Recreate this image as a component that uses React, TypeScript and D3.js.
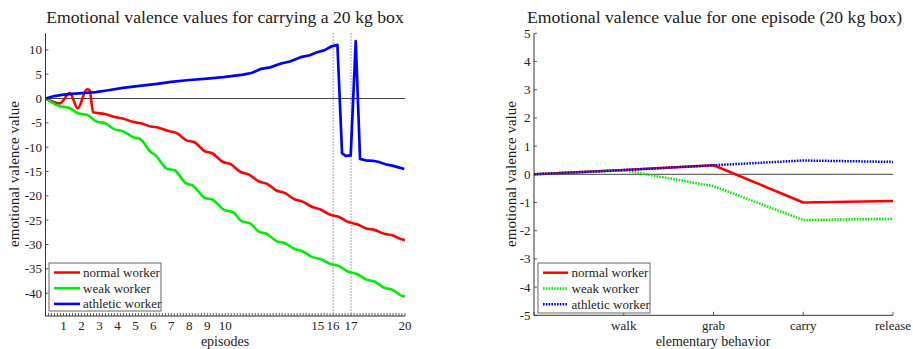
import React from 'react';
import * as d3 from 'd3';

// ---------- Left chart data (episodes) ----------
const normalEpisodes = [0, 0.8, 1.35, 1.8, 2.3, 2.45, 2.65, 3.3, 3.85, 4.3, 4.85, 5.3, 5.85, 6.3, 6.85, 7.3, 7.85, 8.3, 8.85, 9.3, 9.85, 10.3, 10.85, 11.3, 11.85, 12.3, 12.85, 13.3, 13.85, 14.3, 14.85, 15.3, 15.85, 16.3, 16.85, 17.3, 17.85, 18.3, 18.85, 19.3, 19.85, 20];
const normalValues = [0, -1.0, 1.1, -2.0, 1.9, 1.75, -2.85, -3.2, -3.8, -4.1, -4.8, -5.1, -5.75, -6.0, -6.7, -7.1, -8.6, -9.0, -10.8, -11.3, -13.0, -13.5, -15.1, -15.6, -17.0, -17.5, -18.9, -19.4, -20.7, -21.2, -22.3, -22.8, -23.9, -24.3, -25.4, -25.8, -26.7, -27.0, -27.8, -28.1, -29.0, -29.1];

const weakEpisodes = [0, 0.75, 1.3, 1.85, 2.3, 2.85, 3.3, 3.85, 4.3, 4.85, 5.3, 5.85, 6.1, 6.75, 7.2, 7.8, 8.2, 8.85, 9.3, 9.95, 10.45, 10.9, 11.4, 11.85, 12.3, 12.85, 13.3, 13.85, 14.3, 14.85, 15.3, 15.85, 16.3, 16.85, 17.3, 17.85, 18.3, 18.85, 19.3, 19.85, 20];
const weakValues = [0, -1.55, -1.9, -3.1, -3.35, -4.75, -5.05, -6.35, -6.7, -7.9, -8.4, -11.0, -11.6, -14.4, -14.8, -17.4, -17.9, -20.4, -20.8, -22.9, -23.4, -25.2, -25.7, -27.3, -27.8, -29.3, -29.7, -30.9, -31.4, -32.6, -33.0, -34.0, -34.4, -35.6, -36.0, -37.2, -37.6, -38.9, -39.3, -40.6, -40.7];

const athleticEpisodes = [0, 0.5, 1, 1.5, 2, 2.8, 3.5, 4.3, 5, 6.2, 7, 8, 9, 9.9, 11, 11.5, 12, 12.5, 13.1, 13.6, 14.2, 14.7, 15.1, 15.5, 15.9, 16.24, 16.5, 16.7, 16.98, 17.26, 17.5, 17.8, 18.2, 18.5, 19.0, 19.3, 19.96];
const athleticValues = [0, 0.5, 0.8, 0.95, 1.1, 1.3, 1.7, 2.2, 2.5, 3.0, 3.4, 3.8, 4.1, 4.4, 4.9, 5.3, 6.1, 6.4, 7.2, 7.6, 8.5, 8.9, 9.5, 9.9, 10.7, 11.0, -11.3, -11.8, -11.7, 11.8, -12.4, -12.7, -12.8, -13.0, -13.6, -13.8, -14.5];

const episodeTickPositions = [1, 2, 3, 4, 5, 6, 7, 8, 9, 10, 15.15, 16, 17, 20];
const episodeTickLabels = ['1', '2', '3', '4', '5', '6', '7', '8', '9', '10', '15', '16', '17', '20'];
const markedEpisodes = [16, 17];
const leftYTicks = [-40, -35, -30, -25, -20, -15, -10, -5, 0, 5, 10];

// ---------- Right chart data (one episode) ----------
const behaviors = ['', 'walk', 'grab', 'carry', 'release'];
const normalOne = [0, 0.15, 0.32, -1.0, -0.95];
const weakOne = [0, 0.14, -0.42, -1.62, -1.58];
const athleticOne = [0, 0.15, 0.32, 0.49, 0.44];
const rightYTicks = [-5, -4, -3, -2, -1, 0, 1, 2, 3, 4, 5];

const seriesNames = ['normal worker', 'weak worker', 'athletic worker'];
const seriesColors = ['#ff0000', '#00ee00', '#0000ff'];

const FONT = '"Liberation Serif", "Times New Roman", serif';
const AXIS = '#333';
const TITLE_SIZE = 17.7;
const LABEL_SIZE = 14.5;
const TICK_SIZE = 13;

function LeftChart() {
  const x = d3.scaleLinear().domain([0, 20]).range([45.5, 405]);
  const y = d3.scaleLinear().domain([-44.7, 13.4]).range([316, 33.3]);
  const smooth = d3.line<[number, number]>().x(d => x(d[0])).y(d => y(d[1])).curve(d3.curveMonotoneX);
  const straight = d3.line<[number, number]>().x(d => x(d[0])).y(d => y(d[1]));
  const pts = (eps: number[], vals: number[]) => eps.map((e, i) => [e, vals[i]] as [number, number]);
  const minor = d3.range(0, 20 * 6 + 1).map(i => i / 6);
  const [y0, y1] = y.range();
  const [x0, x1] = x.range();
  return (
    <g>
      <text x={225} y={22.5} textAnchor="middle" fontSize={TITLE_SIZE} fontFamily={FONT} fill="#222">Emotional valence values for carrying a 20 kg box</text>
      <line x1={x0} x2={x1} y1={y(0)} y2={y(0)} stroke="#444" strokeWidth={1} />
      {markedEpisodes.map(e => (
        <line key={e} x1={x(e)} x2={x(e)} y1={y1} y2={y0} stroke="#888" strokeWidth={1} strokeDasharray="1.5 1.5" />
      ))}
      <path d={smooth(pts(normalEpisodes, normalValues)) || ''} fill="none" stroke={seriesColors[0]} strokeWidth={2.6} strokeLinejoin="round" />
      <path d={smooth(pts(weakEpisodes, weakValues)) || ''} fill="none" stroke={seriesColors[1]} strokeWidth={2.6} strokeLinejoin="round" />
      <path d={straight(pts(athleticEpisodes, athleticValues)) || ''} fill="none" stroke={seriesColors[2]} strokeWidth={2.7} strokeLinejoin="round" />
      <line x1={x0} x2={x0} y1={y1} y2={y0} stroke={AXIS} strokeWidth={1} />
      <line x1={x0} x2={x1} y1={y0} y2={y0} stroke={AXIS} strokeWidth={1} />
      {minor.map((m, i) => (
        <line key={i} x1={x(m)} x2={x(m)} y1={y0} y2={y0 - 3} stroke={AXIS} strokeWidth={0.8} />
      ))}
      {leftYTicks.map(t => (
        <g key={t}>
          <line x1={x0} x2={x0 + 3} y1={y(t)} y2={y(t)} stroke={AXIS} strokeWidth={0.8} />
          <text x={x0 - 3.5} y={y(t) + 4.5} textAnchor="end" fontSize={TICK_SIZE} fontFamily={FONT} fill="#222">{t}</text>
        </g>
      ))}
      {episodeTickPositions.map((p, i) => (
        <text key={i} x={x(p)} y={329.5} textAnchor="middle" fontSize={TICK_SIZE} fontFamily={FONT} fill="#222">{episodeTickLabels[i]}</text>
      ))}
      <text x={225} y={346} textAnchor="middle" fontSize={14} fontFamily={FONT} fill="#222">episodes</text>
      <text transform={`translate(19,174) rotate(-90)`} textAnchor="middle" fontSize={LABEL_SIZE + 0.5} fontFamily={FONT} fill="#222">emotional valence value</text>
      <rect x={49} y={263} width={112} height={48} fill="#fff" stroke="#666" strokeWidth={1} />
      {seriesNames.map((n, i) => (
        <g key={n}>
          <line x1={54} x2={80} y1={272.5 + i * 15.7} y2={272.5 + i * 15.7} stroke={seriesColors[i]} strokeWidth={2.5} />
          <text x={83} y={272.5 + i * 15.7 + 4.5} fontSize={TICK_SIZE} fontFamily={FONT} fill="#222">{n}</text>
        </g>
      ))}
    </g>
  );
}

function RightChart() {
  const x = d3.scaleLinear().domain([0, 4]).range([534, 893]);
  const y = d3.scaleLinear().domain([-5, 5]).range([315.3, 33.3]);
  const line = d3.line<number>().x((_, i) => x(i)).y(d => y(d));
  const [y0, y1] = y.range();
  const [x0, x1] = x.range();
  const dash = '1.6 1.2';
  const styles = [undefined, dash, dash];
  const data = [normalOne, weakOne, athleticOne];
  return (
    <g>
      <text x={714.5} y={22.5} textAnchor="middle" fontSize={TITLE_SIZE} fontFamily={FONT} fill="#222">Emotional valence value for one episode (20 kg box)</text>
      <line x1={x0} x2={x1} y1={y(0)} y2={y(0)} stroke="#444" strokeWidth={1} />
      {data.map((d, i) => (
        <path key={i} d={line(d) || ''} fill="none" stroke={seriesColors[i]} strokeWidth={2.5} strokeDasharray={styles[i]} strokeLinejoin="round" />
      ))}
      <line x1={x0} x2={x0} y1={y1} y2={y0} stroke={AXIS} strokeWidth={1} />
      <line x1={x0} x2={x1} y1={y0} y2={y0} stroke={AXIS} strokeWidth={1} />
      {rightYTicks.map(t => (
        <g key={t}>
          <line x1={x0} x2={x0 + 3} y1={y(t)} y2={y(t)} stroke={AXIS} strokeWidth={0.8} />
          <text x={x0 - 3.5} y={y(t) + 4.5} textAnchor="end" fontSize={TICK_SIZE} fontFamily={FONT} fill="#222">{t}</text>
        </g>
      ))}
      {behaviors.map((b, i) => (
        <g key={i}>
          <line x1={x(i)} x2={x(i)} y1={y0} y2={y0 - 3.5} stroke={AXIS} strokeWidth={0.8} />
          {b && <text x={x(i)} y={329.5} textAnchor="middle" fontSize={TICK_SIZE} fontFamily={FONT} fill="#222">{b}</text>}
        </g>
      ))}
      <text x={713} y={346} textAnchor="middle" fontSize={14} fontFamily={FONT} fill="#222">elementary behavior</text>
      <text transform={`translate(516,174) rotate(-90)`} textAnchor="middle" fontSize={LABEL_SIZE + 0.5} fontFamily={FONT} fill="#222">emotional valence value</text>
      <rect x={538} y={263} width={112} height={50} fill="#fff" stroke="#666" strokeWidth={1} />
      {seriesNames.map((n, i) => (
        <g key={n}>
          <line x1={543} x2={568} y1={272.7 + i * 15.8} y2={272.7 + i * 15.8} stroke={seriesColors[i]} strokeWidth={2.5} strokeDasharray={styles[i]} />
          <text x={571.5} y={272.7 + i * 15.8 + 4.5} fontSize={TICK_SIZE} fontFamily={FONT} fill="#222">{n}</text>
        </g>
      ))}
    </g>
  );
}

export default function App() {
  return (
    <svg width={913} height={349} viewBox="0 0 913 349" style={{ position: 'absolute', left: 0, top: 0, background: '#fff' }}>
      <rect x={0} y={0} width={913} height={349} fill="#fff" />
      <LeftChart />
      <RightChart />
    </svg>
  );
}
